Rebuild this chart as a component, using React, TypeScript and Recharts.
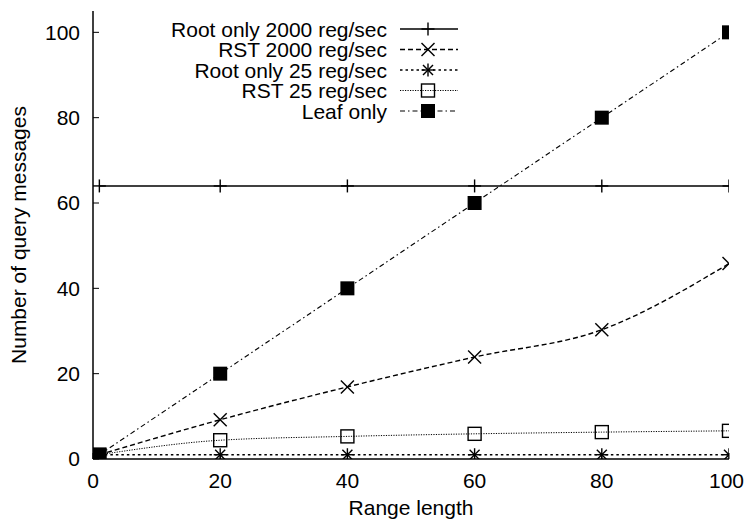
import React from 'react';
import { LineChart, Line, XAxis, YAxis, Customized } from 'recharts';

const rangeLengths = [1, 20, 40, 60, 80, 100];
const rootOnly2000 = [64, 64, 64, 64, 64, 64];
const rst2000 = [1, 9.2, 16.9, 23.9, 30.3, 45.8];
const rootOnly25 = [1, 1, 1, 1, 1, 1];
const rst25 = [1, 4.4, 5.3, 5.9, 6.3, 6.6];
const leafOnly = [1, 20, 40, 60, 80, 100];

const xTicks = [0, 20, 40, 60, 80, 100];
const yTicks = [0, 20, 40, 60, 80, 100];

const seriesNames = [
  'Root only 2000 reg/sec',
  'RST 2000 reg/sec',
  'Root only 25 reg/sec',
  'RST 25 reg/sec',
  'Leaf only',
];

const data = rangeLengths.map((x, i) => ({
  x,
  root2000: rootOnly2000[i],
  rst2000: rst2000[i],
  root25: rootOnly25[i],
  rst25: rst25[i],
  leaf: leafOnly[i],
}));

const FONT = '"Liberation Sans", Arial, Helvetica, sans-serif';
const FS = 21;

type Kind = 'plus' | 'cross' | 'star' | 'square' | 'filled';

const styles: { key: string; kind: Kind; dash?: string; width: number }[] = [
  { key: 'root2000', kind: 'plus', width: 1.4 },
  { key: 'rst2000', kind: 'cross', dash: '5 3', width: 1.4 },
  { key: 'root25', kind: 'star', dash: '2.5 3', width: 1.6 },
  { key: 'rst25', kind: 'square', dash: '1.2 1.3', width: 1 },
  { key: 'leaf', kind: 'filled', dash: '5 3 1.5 3', width: 1.1 },
];

function marker(kind: Kind, cx: number, cy: number, key?: string | number) {
  const s = 'black';
  if (kind === 'plus') {
    const r = 6.5;
    return (
      <g key={key}>
        <line x1={cx - r} x2={cx + r} y1={cy} y2={cy} stroke={s} strokeWidth={1.4} />
        <line x1={cx} x2={cx} y1={cy - r} y2={cy + r} stroke={s} strokeWidth={1.4} />
      </g>
    );
  }
  if (kind === 'cross') {
    const r = 6.5;
    return (
      <g key={key}>
        <line x1={cx - r} x2={cx + r} y1={cy - r} y2={cy + r} stroke={s} strokeWidth={1.4} />
        <line x1={cx - r} x2={cx + r} y1={cy + r} y2={cy - r} stroke={s} strokeWidth={1.4} />
      </g>
    );
  }
  if (kind === 'star') {
    const r = 6.5;
    const d = 5;
    return (
      <g key={key}>
        <line x1={cx - r} x2={cx + r} y1={cy} y2={cy} stroke={s} strokeWidth={1.4} />
        <line x1={cx} x2={cx} y1={cy - r} y2={cy + r} stroke={s} strokeWidth={1.4} />
        <line x1={cx - d} x2={cx + d} y1={cy - d} y2={cy + d} stroke={s} strokeWidth={1.4} />
        <line x1={cx - d} x2={cx + d} y1={cy + d} y2={cy - d} stroke={s} strokeWidth={1.4} />
      </g>
    );
  }
  if (kind === 'square') {
    const r = 6.5;
    return (
      <rect key={key} x={cx - r} y={cy - r} width={2 * r} height={2 * r} fill="none" stroke={s} strokeWidth={1.4} />
    );
  }
  const r = 7;
  return <rect key={key} x={cx - r} y={cy - r} width={2 * r} height={2 * r} fill={s} stroke="none" />;
}

const LegendBox = () => {
  const rowY = [29, 49.5, 70, 90.5, 111];
  return (
    <g>
      {styles.map((st, i) => (
        <g key={st.key}>
          <text x={387} y={rowY[i] + 7.5} textAnchor="end" fontFamily={FONT} fontSize={FS} fill="#000">
            {seriesNames[i]}
          </text>
          <line
            x1={400}
            x2={458}
            y1={rowY[i]}
            y2={rowY[i]}
            stroke="#000"
            strokeWidth={st.width}
            strokeDasharray={st.dash}
          />
          {marker(st.kind, 428, rowY[i])}
        </g>
      ))}
    </g>
  );
};

const YLabel = () => (
  <text
    x={26}
    y={235}
    transform="rotate(-90, 26, 235)"
    textAnchor="middle"
    fontFamily={FONT}
    fontSize={FS}
    fill="#000"
  >
    Number of query messages
  </text>
);

const XTick = (p: any) => {
  const label = String(p.payload.value);
  const half = (label.length * FS * 0.556) / 2;
  const x = Math.min(p.x, 744 - half);
  return (
    <text x={x} y={p.y} dy="0.71em" textAnchor="middle" fontFamily={FONT} fontSize={FS} fill="#000">
      {label}
    </text>
  );
};

const axisLine = { stroke: '#000', strokeWidth: 1.5 };
const tickLine = { stroke: '#000', strokeWidth: 1 };
const tickStyle = { fill: '#000', fontSize: FS, fontFamily: FONT };

export default function App() {
  return (
    <>
      <style>{'html,body{margin:0;padding:0;overflow:hidden;background:#fff}'}</style>
      <LineChart
        width={745}
        height={522}
        data={data}
        margin={{ top: 11, right: 16, bottom: 0, left: 33 }}
        style={{ fontFamily: FONT }}
      >
        <XAxis
          dataKey="x"
          type="number"
          domain={[0, 100]}
          ticks={xTicks}
          allowDataOverflow
          tickSize={-6}
          tickMargin={20}
          height={63}
          axisLine={axisLine}
          tickLine={tickLine}
          tick={XTick}
          label={{ value: 'Range length', position: 'insideBottom', offset: 7, fill: '#000', fontSize: FS, fontFamily: FONT }}
        />
        <XAxis
          xAxisId="top"
          orientation="top"
          dataKey="x"
          type="number"
          domain={[0, 100]}
          ticks={xTicks}
          allowDataOverflow
          tickSize={-6}
          height={0}
          axisLine={axisLine}
          tickLine={tickLine}
          tick={false}
        />
        <YAxis
          type="number"
          domain={[0, 105]}
          ticks={yTicks}
          allowDataOverflow
          tickSize={-6}
          tickMargin={19}
          width={60}
          axisLine={axisLine}
          tickLine={tickLine}
          tick={tickStyle}
        />
        <YAxis
          yAxisId="right"
          orientation="right"
          type="number"
          domain={[0, 105]}
          ticks={yTicks}
          allowDataOverflow
          tickSize={-6}
          width={0}
          axisLine={axisLine}
          tickLine={tickLine}
          tick={false}
        />
        {styles.map((st) => (
          <Line
            key={st.key}
            dataKey={st.key}
            type={st.key === 'rst2000' || st.key === 'rst25' ? 'monotone' : 'linear'}
            stroke="#000"
            strokeWidth={st.width}
            strokeDasharray={st.dash}
            isAnimationActive={false}
            activeDot={false}
            dot={(p: any) => marker(st.kind, p.cx, p.cy, `${st.key}-${p.index}`)}
          />
        ))}
        <Customized component={LegendBox} />
        <Customized component={YLabel} />
      </LineChart>
    </>
  );
}
